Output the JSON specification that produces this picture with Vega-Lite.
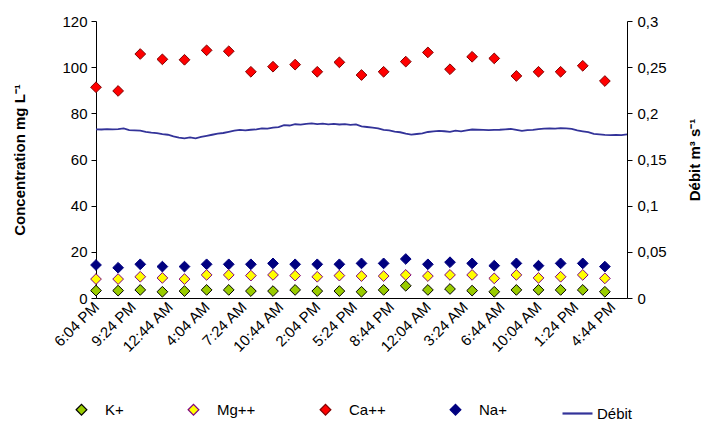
{
  "$schema": "https://vega.github.io/schema/vega-lite/v6.json",
  "width": 531,
  "height": 277,
  "autosize": {"type": "none"},
  "padding": {"left": 96, "top": 21, "right": 85, "bottom": 123},
  "background": "white",
  "config": {
    "view": {"stroke": null},
    "font": "Liberation Sans",
    "axis": {"labelFont": "Liberation Sans", "labelFontSize": 15, "labelColor": "black", "titleFont": "Liberation Sans", "titleFontSize": 15, "titleFontWeight": "bold", "titleColor": "black", "domainColor": "black", "tickColor": "black", "grid": false},
    "legend": {"labelFont": "Liberation Sans", "labelFontSize": 15, "labelColor": "black", "padding": 0}
  },
  "datasets": {
    "flow": [
      {"t":"2010-06-01T18:04","d":0.1827},{"t":"2010-06-01T18:34","d":0.1825},{"t":"2010-06-01T19:04","d":0.1828},{"t":"2010-06-01T19:34","d":0.1826},
      {"t":"2010-06-01T20:04","d":0.1830},{"t":"2010-06-01T20:34","d":0.1836},{"t":"2010-06-01T21:04","d":0.1818},{"t":"2010-06-01T21:34","d":0.1815},
      {"t":"2010-06-01T22:04","d":0.1812},{"t":"2010-06-01T22:34","d":0.1800},{"t":"2010-06-01T23:04","d":0.1792},{"t":"2010-06-01T23:34","d":0.1786},
      {"t":"2010-06-02T00:04","d":0.1775},{"t":"2010-06-02T00:34","d":0.1768},{"t":"2010-06-02T01:04","d":0.1750},{"t":"2010-06-02T01:34","d":0.1738},
      {"t":"2010-06-02T02:04","d":0.1728},{"t":"2010-06-02T02:34","d":0.1740},{"t":"2010-06-02T03:04","d":0.1729},{"t":"2010-06-02T03:34","d":0.1745},
      {"t":"2010-06-02T04:04","d":0.1756},{"t":"2010-06-02T04:34","d":0.1768},{"t":"2010-06-02T05:04","d":0.1780},{"t":"2010-06-02T05:34","d":0.1787},
      {"t":"2010-06-02T06:04","d":0.1800},{"t":"2010-06-02T06:34","d":0.1812},{"t":"2010-06-02T07:04","d":0.1820},{"t":"2010-06-02T07:34","d":0.1815},
      {"t":"2010-06-02T08:04","d":0.1822},{"t":"2010-06-02T08:34","d":0.1826},{"t":"2010-06-02T09:04","d":0.1838},{"t":"2010-06-02T09:34","d":0.1835},
      {"t":"2010-06-02T10:04","d":0.1846},{"t":"2010-06-02T10:34","d":0.1850},{"t":"2010-06-02T11:04","d":0.1872},{"t":"2010-06-02T11:34","d":0.1868},
      {"t":"2010-06-02T12:04","d":0.1882},{"t":"2010-06-02T12:34","d":0.1878},{"t":"2010-06-02T13:04","d":0.1886},{"t":"2010-06-02T13:34","d":0.1892},
      {"t":"2010-06-02T14:04","d":0.1884},{"t":"2010-06-02T14:34","d":0.1888},{"t":"2010-06-02T15:04","d":0.1880},{"t":"2010-06-02T15:34","d":0.1886},
      {"t":"2010-06-02T16:04","d":0.1879},{"t":"2010-06-02T16:34","d":0.1884},{"t":"2010-06-02T17:04","d":0.1876},{"t":"2010-06-02T17:34","d":0.1880},
      {"t":"2010-06-02T18:04","d":0.1858},{"t":"2010-06-02T18:34","d":0.1852},{"t":"2010-06-02T19:04","d":0.1846},{"t":"2010-06-02T19:34","d":0.1838},
      {"t":"2010-06-02T20:04","d":0.1822},{"t":"2010-06-02T20:34","d":0.1815},{"t":"2010-06-02T21:04","d":0.1802},{"t":"2010-06-02T21:34","d":0.1795},
      {"t":"2010-06-02T22:04","d":0.1780},{"t":"2010-06-02T22:34","d":0.1770},{"t":"2010-06-02T23:04","d":0.1776},{"t":"2010-06-02T23:34","d":0.1783},
      {"t":"2010-06-03T00:04","d":0.1798},{"t":"2010-06-03T00:34","d":0.1805},{"t":"2010-06-03T01:04","d":0.1810},{"t":"2010-06-03T01:34","d":0.1806},
      {"t":"2010-06-03T02:04","d":0.1799},{"t":"2010-06-03T02:34","d":0.1812},{"t":"2010-06-03T03:04","d":0.1805},{"t":"2010-06-03T03:34","d":0.1816},
      {"t":"2010-06-03T04:04","d":0.1825},{"t":"2010-06-03T04:34","d":0.1822},{"t":"2010-06-03T05:04","d":0.1820},{"t":"2010-06-03T05:34","d":0.1818},
      {"t":"2010-06-03T06:04","d":0.1820},{"t":"2010-06-03T06:34","d":0.1822},{"t":"2010-06-03T07:04","d":0.1826},{"t":"2010-06-03T07:34","d":0.1831},
      {"t":"2010-06-03T08:04","d":0.1822},{"t":"2010-06-03T08:34","d":0.1810},{"t":"2010-06-03T09:04","d":0.1818},{"t":"2010-06-03T09:34","d":0.1820},
      {"t":"2010-06-03T10:04","d":0.1830},{"t":"2010-06-03T10:34","d":0.1834},{"t":"2010-06-03T11:04","d":0.1838},{"t":"2010-06-03T11:34","d":0.1835},
      {"t":"2010-06-03T12:04","d":0.1840},{"t":"2010-06-03T12:34","d":0.1836},{"t":"2010-06-03T13:04","d":0.1832},{"t":"2010-06-03T13:34","d":0.1815},
      {"t":"2010-06-03T14:04","d":0.1805},{"t":"2010-06-03T14:34","d":0.1796},{"t":"2010-06-03T15:04","d":0.1778},{"t":"2010-06-03T15:34","d":0.1772},
      {"t":"2010-06-03T16:04","d":0.1766},{"t":"2010-06-03T16:34","d":0.1764},{"t":"2010-06-03T17:04","d":0.1767},{"t":"2010-06-03T17:34","d":0.1764},
      {"t":"2010-06-03T18:04","d":0.1772}
    ],
    "ions": [
      {"t":"2010-06-01T18:04","ion":"Ca++","v":91.3},{"t":"2010-06-01T18:04","ion":"Na+","v":14.3},{"t":"2010-06-01T18:04","ion":"Mg++","v":8.2},{"t":"2010-06-01T18:04","ion":"K+","v":3.2},
      {"t":"2010-06-01T20:04","ion":"Ca++","v":89.7},{"t":"2010-06-01T20:04","ion":"Na+","v":13.1},{"t":"2010-06-01T20:04","ion":"Mg++","v":8.2},{"t":"2010-06-01T20:04","ion":"K+","v":3.2},
      {"t":"2010-06-01T22:04","ion":"Ca++","v":105.7},{"t":"2010-06-01T22:04","ion":"Na+","v":14.6},{"t":"2010-06-01T22:04","ion":"Mg++","v":9.2},{"t":"2010-06-01T22:04","ion":"K+","v":3.5},
      {"t":"2010-06-02T00:04","ion":"Ca++","v":103.4},{"t":"2010-06-02T00:04","ion":"Na+","v":13.6},{"t":"2010-06-02T00:04","ion":"Mg++","v":8.7},{"t":"2010-06-02T00:04","ion":"K+","v":2.7},
      {"t":"2010-06-02T02:04","ion":"Ca++","v":103.2},{"t":"2010-06-02T02:04","ion":"Na+","v":13.6},{"t":"2010-06-02T02:04","ion":"Mg++","v":8.2},{"t":"2010-06-02T02:04","ion":"K+","v":3.0},
      {"t":"2010-06-02T04:04","ion":"Ca++","v":107.3},{"t":"2010-06-02T04:04","ion":"Na+","v":14.6},{"t":"2010-06-02T04:04","ion":"Mg++","v":10.0},{"t":"2010-06-02T04:04","ion":"K+","v":3.5},
      {"t":"2010-06-02T06:04","ion":"Ca++","v":106.9},{"t":"2010-06-02T06:04","ion":"Na+","v":14.6},{"t":"2010-06-02T06:04","ion":"Mg++","v":10.0},{"t":"2010-06-02T06:04","ion":"K+","v":3.5},
      {"t":"2010-06-02T08:04","ion":"Ca++","v":98.0},{"t":"2010-06-02T08:04","ion":"Na+","v":14.6},{"t":"2010-06-02T08:04","ion":"Mg++","v":9.7},{"t":"2010-06-02T08:04","ion":"K+","v":3.0},
      {"t":"2010-06-02T10:04","ion":"Ca++","v":100.2},{"t":"2010-06-02T10:04","ion":"Na+","v":15.0},{"t":"2010-06-02T10:04","ion":"Mg++","v":10.0},{"t":"2010-06-02T10:04","ion":"K+","v":3.0},
      {"t":"2010-06-02T12:04","ion":"Ca++","v":101.1},{"t":"2010-06-02T12:04","ion":"Na+","v":14.6},{"t":"2010-06-02T12:04","ion":"Mg++","v":9.7},{"t":"2010-06-02T12:04","ion":"K+","v":3.5},
      {"t":"2010-06-02T14:04","ion":"Ca++","v":98.0},{"t":"2010-06-02T14:04","ion":"Na+","v":14.6},{"t":"2010-06-02T14:04","ion":"Mg++","v":9.2},{"t":"2010-06-02T14:04","ion":"K+","v":3.0},
      {"t":"2010-06-02T16:04","ion":"Ca++","v":102.1},{"t":"2010-06-02T16:04","ion":"Na+","v":14.6},{"t":"2010-06-02T16:04","ion":"Mg++","v":9.7},{"t":"2010-06-02T16:04","ion":"K+","v":3.0},
      {"t":"2010-06-02T18:04","ion":"Ca++","v":96.6},{"t":"2010-06-02T18:04","ion":"Na+","v":15.0},{"t":"2010-06-02T18:04","ion":"Mg++","v":9.5},{"t":"2010-06-02T18:04","ion":"K+","v":2.7},
      {"t":"2010-06-02T20:04","ion":"Ca++","v":98.0},{"t":"2010-06-02T20:04","ion":"Na+","v":15.0},{"t":"2010-06-02T20:04","ion":"Mg++","v":9.5},{"t":"2010-06-02T20:04","ion":"K+","v":3.5},
      {"t":"2010-06-02T22:04","ion":"Ca++","v":102.4},{"t":"2010-06-02T22:04","ion":"Na+","v":16.9},{"t":"2010-06-02T22:04","ion":"Mg++","v":10.0},{"t":"2010-06-02T22:04","ion":"K+","v":5.3},
      {"t":"2010-06-03T00:04","ion":"Ca++","v":106.4},{"t":"2010-06-03T00:04","ion":"Na+","v":14.6},{"t":"2010-06-03T00:04","ion":"Mg++","v":9.5},{"t":"2010-06-03T00:04","ion":"K+","v":3.5},
      {"t":"2010-06-03T02:04","ion":"Ca++","v":99.1},{"t":"2010-06-03T02:04","ion":"Na+","v":15.5},{"t":"2010-06-03T02:04","ion":"Mg++","v":10.0},{"t":"2010-06-03T02:04","ion":"K+","v":3.9},
      {"t":"2010-06-03T04:04","ion":"Ca++","v":104.5},{"t":"2010-06-03T04:04","ion":"Na+","v":15.0},{"t":"2010-06-03T04:04","ion":"Mg++","v":10.0},{"t":"2010-06-03T04:04","ion":"K+","v":3.2},
      {"t":"2010-06-03T06:04","ion":"Ca++","v":103.8},{"t":"2010-06-03T06:04","ion":"Na+","v":14.0},{"t":"2010-06-03T06:04","ion":"Mg++","v":8.5},{"t":"2010-06-03T06:04","ion":"K+","v":2.7},
      {"t":"2010-06-03T08:04","ion":"Ca++","v":96.2},{"t":"2010-06-03T08:04","ion":"Na+","v":15.0},{"t":"2010-06-03T08:04","ion":"Mg++","v":10.0},{"t":"2010-06-03T08:04","ion":"K+","v":3.5},
      {"t":"2010-06-03T10:04","ion":"Ca++","v":98.0},{"t":"2010-06-03T10:04","ion":"Na+","v":14.0},{"t":"2010-06-03T10:04","ion":"Mg++","v":8.7},{"t":"2010-06-03T10:04","ion":"K+","v":3.5},
      {"t":"2010-06-03T12:04","ion":"Ca++","v":98.0},{"t":"2010-06-03T12:04","ion":"Na+","v":15.0},{"t":"2010-06-03T12:04","ion":"Mg++","v":9.2},{"t":"2010-06-03T12:04","ion":"K+","v":3.5},
      {"t":"2010-06-03T14:04","ion":"Ca++","v":100.6},{"t":"2010-06-03T14:04","ion":"Na+","v":15.0},{"t":"2010-06-03T14:04","ion":"Mg++","v":10.0},{"t":"2010-06-03T14:04","ion":"K+","v":3.5},
      {"t":"2010-06-03T16:04","ion":"Ca++","v":94.0},{"t":"2010-06-03T16:04","ion":"Na+","v":13.6},{"t":"2010-06-03T16:04","ion":"Mg++","v":8.5},{"t":"2010-06-03T16:04","ion":"K+","v":2.7}
    ]
  },
  "encoding": {
    "x": {"field": "t", "type": "temporal",
      "scale": {"domain": [{"year":2010,"month":6,"date":1,"hours":18,"minutes":4},{"year":2010,"month":6,"date":3,"hours":18,"minutes":4}]},
      "axis": {"title": null, "format": "%-I:%M %p", "labelAngle": -45, "labelAlign": "right", "labelBaseline": "middle", "labelPadding": 6, "ticks": false, "labelFlush": false, "labelOverlap": false, "labelBound": false,
        "values": [
          {"year":2010,"month":6,"date":1,"hours":18,"minutes":4},
          {"year":2010,"month":6,"date":1,"hours":21,"minutes":24},
          {"year":2010,"month":6,"date":2,"hours":0,"minutes":44},
          {"year":2010,"month":6,"date":2,"hours":4,"minutes":4},
          {"year":2010,"month":6,"date":2,"hours":7,"minutes":24},
          {"year":2010,"month":6,"date":2,"hours":10,"minutes":44},
          {"year":2010,"month":6,"date":2,"hours":14,"minutes":4},
          {"year":2010,"month":6,"date":2,"hours":17,"minutes":24},
          {"year":2010,"month":6,"date":2,"hours":20,"minutes":44},
          {"year":2010,"month":6,"date":3,"hours":0,"minutes":4},
          {"year":2010,"month":6,"date":3,"hours":3,"minutes":24},
          {"year":2010,"month":6,"date":3,"hours":6,"minutes":44},
          {"year":2010,"month":6,"date":3,"hours":10,"minutes":4},
          {"year":2010,"month":6,"date":3,"hours":13,"minutes":24},
          {"year":2010,"month":6,"date":3,"hours":16,"minutes":44}
        ]}}
  },
  "layer": [
    {
      "data": {"name": "flow"},
      "mark": {"type": "line", "strokeWidth": 1.8},
      "encoding": {
        "y": {"field": "d", "type": "quantitative",
          "scale": {"domain": [0, 0.3], "nice": false},
          "axis": {"orient": "right", "title": "Débit m³ s⁻¹", "titleAngle": -90, "titlePadding": 36, "values": [0,0.05,0.1,0.15,0.2,0.25,0.3], "labelExpr": "replace(format(datum.value, '~g'), '.', ',')", "tickSize": 5, "labelPadding": 5}},
        "color": {"datum": "Débit",
          "scale": {"domain": ["Débit"], "range": ["#333399"]},
          "legend": {"title": null, "orient": "none", "legendX": 465, "legendY": 376, "symbolType": "stroke", "symbolSize": 900, "symbolStrokeWidth": 2.2, "labelOffset": 3}}
      }
    },
    {
      "data": {"name": "ions"},
      "mark": {"type": "point", "filled": true, "opacity": 1, "strokeWidth": 1, "size": 115},
      "encoding": {
        "y": {"field": "v", "type": "quantitative",
          "scale": {"domain": [0, 120], "nice": false},
          "axis": {"orient": "left", "title": "Concentration mg L⁻¹", "titlePadding": 34, "values": [0,20,40,60,80,100,120], "tickSize": 5, "labelPadding": 4}},
        "fill": {"field": "ion", "type": "nominal",
          "scale": {"domain": ["K+","Mg++","Ca++","Na+"], "range": ["#99CC00","#FFFF00","#FF0000","#000080"]},
          "legend": {"title": null, "orient": "none", "direction": "horizontal", "legendX": -22, "legendY": 381, "columnPadding": 61, "labelOffset": 16, "symbolStrokeWidth": 1.2, "symbolSize": 115}},
        "stroke": {"field": "ion", "type": "nominal",
          "scale": {"domain": ["K+","Mg++","Ca++","Na+"], "range": ["#000000","#800080","#800000","#000080"]}},
        "shape": {"field": "ion", "type": "nominal",
          "scale": {"domain": ["K+","Mg++","Ca++","Na+"], "range": ["diamond","diamond","diamond","diamond"]}}
      }
    }
  ],
  "resolve": {"scale": {"y": "independent"}}
}
